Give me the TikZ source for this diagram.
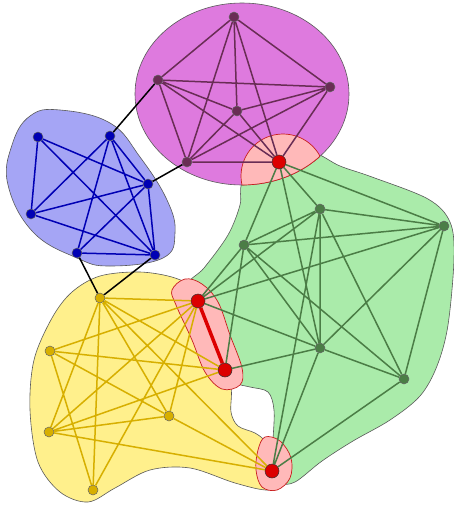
\documentclass[tikz,border=0pt]{standalone}
\definecolor{purplearea}{RGB}{222,122,222}
\definecolor{bluearea}{RGB}{165,165,245}
\definecolor{greenarea}{RGB}{170,235,170}
\definecolor{yellowarea}{RGB}{255,240,140}
\definecolor{pinkarea}{RGB}{255,185,185}
\definecolor{pinkline}{RGB}{200,30,30}
\definecolor{purpleedge}{RGB}{105,45,85}
\definecolor{blueedge}{RGB}{0,0,180}
\definecolor{greenedge}{RGB}{75,125,70}
\definecolor{yellowedge}{RGB}{215,175,0}
\definecolor{rednode}{RGB}{220,0,0}
\tikzset{
  hull/.style={draw=black!65, line width=0.6pt},
  overlap/.style={draw=pinkline, fill=pinkarea, line width=0.7pt},
  vtx/.style={circle, draw=black!60, inner sep=0pt, minimum size=10pt, line width=0.5pt},
  redvtx/.style={vtx, fill=rednode, draw=black!80, minimum size=14pt},
  link/.style={line width=1.5pt}
}
\begin{document}
\begin{tikzpicture}[x=1pt,y=-1pt]
\useasboundingbox (0,0) rectangle (454,506);
% community areas
\draw[hull, fill=yellowarea] plot[smooth cycle, tension=0.55] coordinates {(100,276) (140,272) (175,278) (192,290) (208,330) (221,370) (231,388) (231,412) (238,426) (255,433) (266,442) (278,460) (281,480) (268,490) (235,483) (190,468) (150,470) (115,488) (88,502) (60,492) (38,462) (30,410) (34,360) (52,318) (72,292)};
\draw[hull, fill=greenarea] plot[smooth cycle, tension=0.55] coordinates {(242,183) (262,150) (300,148) (320,155) (340,166) (372,177) (428,199) (450,222) (454,258) (448,325) (437,366) (420,396) (390,420) (353,441) (322,461) (295,482) (280,482) (272,462) (273,440) (274,410) (268,392) (250,387) (236,383) (226,370) (205,310) (188,285) (204,268) (228,235) (240,205)};
\draw[hull, fill=bluearea] plot[smooth cycle, tension=0.7] coordinates {(8,185) (12,145) (30,116) (60,110) (110,123) (140,157) (167,200) (175,233) (163,258) (110,266) (77,258) (33,232)};
\draw[hull, fill=purplearea] (242,94) ellipse [x radius=107, y radius=91];
% overlaps
\begin{scope}
  \clip (242,94) ellipse [x radius=107, y radius=91];
  \draw[overlap] (283,176) circle [radius=42];
\end{scope}
\begin{scope}
  \clip (283,176) circle [radius=42];
  \draw[pinkline, line width=0.7pt] (242,94) ellipse [x radius=107, y radius=91];
\end{scope}
\draw[overlap] plot[smooth cycle, tension=0.6] coordinates {(185,279) (202,284) (218,302) (230,335) (242,368) (240,385) (222,389) (205,372) (192,340) (176,305) (172,290)};
\draw[overlap] plot[smooth cycle, tension=0.6] coordinates {(265,437) (280,441) (291,458) (290,478) (277,490) (262,487) (256,470) (258,450)};
% vertices
\node[vtx, fill=purpleedge] (p1) at (234,17) {};
\node[vtx, fill=purpleedge] (p2) at (158,80) {};
\node[vtx, fill=purpleedge] (p3) at (330,87) {};
\node[vtx, fill=purpleedge] (p4) at (237,111) {};
\node[vtx, fill=purpleedge] (p5) at (187,162) {};
\node[vtx, fill=blueedge] (b1) at (38,137) {};
\node[vtx, fill=blueedge] (b2) at (110,136) {};
\node[vtx, fill=blueedge] (b3) at (148,184) {};
\node[vtx, fill=blueedge] (b4) at (31,214) {};
\node[vtx, fill=blueedge] (b5) at (77,253) {};
\node[vtx, fill=blueedge] (b6) at (155,255) {};
\node[vtx, fill=greenedge] (g1) at (320,209) {};
\node[vtx, fill=greenedge] (g2) at (444,226) {};
\node[vtx, fill=greenedge] (g3) at (244,245) {};
\node[vtx, fill=greenedge] (g4) at (320,348) {};
\node[vtx, fill=greenedge] (g5) at (404,379) {};
\node[vtx, fill=yellowedge] (y1) at (100,298) {};
\node[vtx, fill=yellowedge] (y2) at (50,351) {};
\node[vtx, fill=yellowedge] (y3) at (169,416) {};
\node[vtx, fill=yellowedge] (y4) at (49,432) {};
\node[vtx, fill=yellowedge] (y5) at (93,490) {};
\node[redvtx] (r1) at (279,162) {};
\node[redvtx] (r2) at (198,301) {};
\node[redvtx] (r3) at (225,370) {};
\node[redvtx] (r4) at (272,471) {};
% links
\path[draw, link, purpleedge] (p1) -- (p2) (p1) -- (p3) (p1) -- (p4) (p1) -- (p5) (p1) -- (r1)
  (p2) -- (p3) (p2) -- (p4) (p2) -- (p5) (p2) -- (r1) (p3) -- (p4) (p3) -- (p5) (p3) -- (r1)
  (p4) -- (p5) (p4) -- (r1) (p5) -- (r1);
\path[draw, link, blueedge] (b1) -- (b3) (b1) -- (b4) (b1) -- (b6) (b2) -- (b3) (b2) -- (b4)
  (b2) -- (b5) (b2) -- (b6) (b3) -- (b4) (b3) -- (b5) (b3) -- (b6) (b4) -- (b6) (b5) -- (b6);
\path[draw, link, black] (b2) -- (p2) (b3) -- (p5) (b5) -- (y1) (b6) -- (y1);
\path[draw, link, greenedge] (r1) -- (g1) (r1) -- (g2) (r1) -- (g3) (r1) -- (g4)
  (g1) -- (g2) (g1) -- (g3) (g1) -- (r2) (g1) -- (g4) (g1) -- (g5) (g1) -- (r4)
  (g2) -- (g3) (g2) -- (r2) (g2) -- (g4) (g2) -- (g5)
  (g3) -- (r2) (g3) -- (r3) (g3) -- (g4) (g3) -- (g5)
  (r2) -- (g4) (r3) -- (g4) (g4) -- (g5) (g4) -- (r4) (g5) -- (r4);
\path[draw, link, yellowedge] (y1) -- (r2) (y1) -- (r3) (y1) -- (y3) (y1) -- (r4) (y1) -- (y4) (y1) -- (y5)
  (y2) -- (r2) (y2) -- (r3) (y2) -- (y3) (y2) -- (y5)
  (y3) -- (y4) (y3) -- (r2) (y3) -- (r4)
  (y4) -- (r2) (y4) -- (r3) (y4) -- (r4) (y5) -- (r2);
\path[draw, rednode, line width=3.5pt] (r2) -- (r3);
\end{tikzpicture}
\end{document}
